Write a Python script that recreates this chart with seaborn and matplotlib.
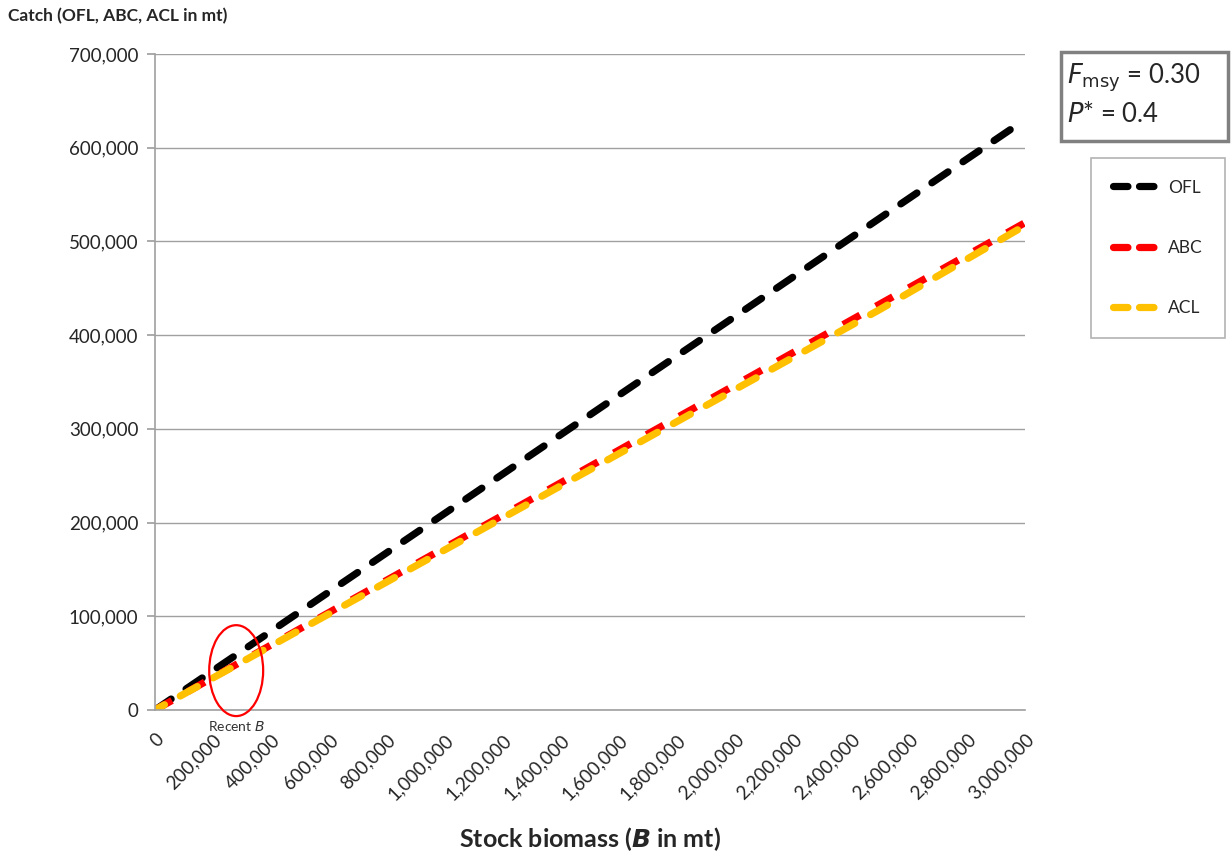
import numpy as np
import pandas as pd
import matplotlib
matplotlib.use("Agg")
import matplotlib.pyplot as plt
from matplotlib.patches import Ellipse
from matplotlib.ticker import FuncFormatter
import seaborn as sns

# Harvest control rule: catch limits as a function of stock biomass
biomass = [0, 500000, 1000000, 1500000, 2000000, 2500000, 3000000]
ofl = [0, 105000, 210000, 315000, 420000, 525000, 630000]
abc = [0, 86700, 173300, 260000, 346700, 433300, 520000]
acl = [0, 85500, 171000, 256500, 342000, 427500, 517000]
series_names = ["OFL", "ABC", "ACL"]
series_colors = ["#000000", "#FF0000", "#FFC000"]

x_ticks = list(range(0, 3000001, 200000))
y_ticks = list(range(0, 700001, 100000))

recent_b = 280000
recent_catch = 42000

sns.set_theme(style="white")
plt.rcParams["font.family"] = ["Lato", "DejaVu Sans"]

df = pd.DataFrame({
    "Biomass": biomass * 3,
    "Catch": ofl + abc + acl,
    "Series": [s for s in series_names for _ in biomass],
})

fig = plt.figure(figsize=(12.32, 8.51), dpi=100)
ax = fig.add_axes([0.1258, 0.1657, 0.7062, 0.7708])

sns.lineplot(data=df, x="Biomass", y="Catch", hue="Series",
             palette=dict(zip(series_names, series_colors)),
             hue_order=series_names, linewidth=5.2, ax=ax, legend=False)
line_styles = {
    "OFL": dict(offset=0.0, cap="round"),
    "ABC": dict(offset=0.0, cap="butt"),
    "ACL": dict(offset=1.2, cap="round"),
}
for line, name in zip(ax.lines, series_names):
    st = line_styles[name]
    line.set_linestyle((st["offset"], (2.7, 2.5)))
    line.set_dash_capstyle(st["cap"])

ax.set_xlim(0, 3000000)
ax.set_ylim(0, 700000)
ax.set_xticks(x_ticks)
ax.set_yticks(y_ticks)
fmt = FuncFormatter(lambda v, p: f"{int(v):,}")
ax.xaxis.set_major_formatter(fmt)
ax.yaxis.set_major_formatter(fmt)
ax.tick_params(axis="x", labelsize=13.5, rotation=45, length=0, pad=15)
for lab in ax.get_xticklabels():
    lab.set_ha("right")
    lab.set_va("top")
    lab.set_rotation_mode("anchor")
ax.tick_params(axis="y", labelsize=13.5, length=6, color="#A0A0A0", left=True, pad=6)
ax.grid(axis="y", color="#A0A0A0", linewidth=1)
ax.grid(axis="x", visible=False)
for side in ["top", "right"]:
    ax.spines[side].set_visible(False)
for side in ["left", "bottom"]:
    ax.spines[side].set_color("#A0A0A0")
    ax.spines[side].set_linewidth(1.2)
ax.set_axisbelow(True)

ax.set_xlabel(r"Stock biomass ($\bfit{B}$ in mt)", fontsize=18, fontweight="bold", labelpad=16)
ax.set_ylabel("")
fig.text(0.0065, 0.981, "Catch (OFL, ABC, ACL in mt)", fontsize=12.5, fontweight="bold",
         ha="left", va="center")

# Recent biomass marker
ax.add_patch(Ellipse((recent_b, recent_catch), 186000, 97000, fill=False,
                     edgecolor="#FF0000", linewidth=1.6, clip_on=False, zorder=5))
ax.text(recent_b, -10000, r"Recent $\mathit{B}$", fontsize=10, ha="center", va="top",
        color="#333333")

# Parameter box
fig.patches.append(plt.Rectangle((0.861, 0.834), 0.136, 0.105, transform=fig.transFigure,
                                 fill=True, facecolor="white", edgecolor="#808080",
                                 linewidth=2.5))
fig.text(0.866, 0.909, r"$\mathit{F}_{\mathrm{msy}}$ = 0.30", fontsize=18.5, ha="left", va="center")
fig.text(0.866, 0.866, r"$\mathit{P}$* = 0.4", fontsize=18.5, ha="left", va="center")

# Legend box
handles = [plt.Line2D([0], [0], color=c, linewidth=5.2, dashes=(2.0, 1.6),
                      dash_capstyle="round") for c in series_colors]
leg = fig.legend(handles, series_names, loc="upper left", bbox_to_anchor=(0.8855, 0.8145),
                 frameon=True, fontsize=12.5, handlelength=2.6, labelspacing=2.55,
                 borderpad=1.25, handletextpad=0.6, fancybox=False, borderaxespad=0)
leg.get_frame().set_edgecolor("#A0A0A0")
leg.get_frame().set_linewidth(1.2)

fig.savefig("out.png", dpi=100)
